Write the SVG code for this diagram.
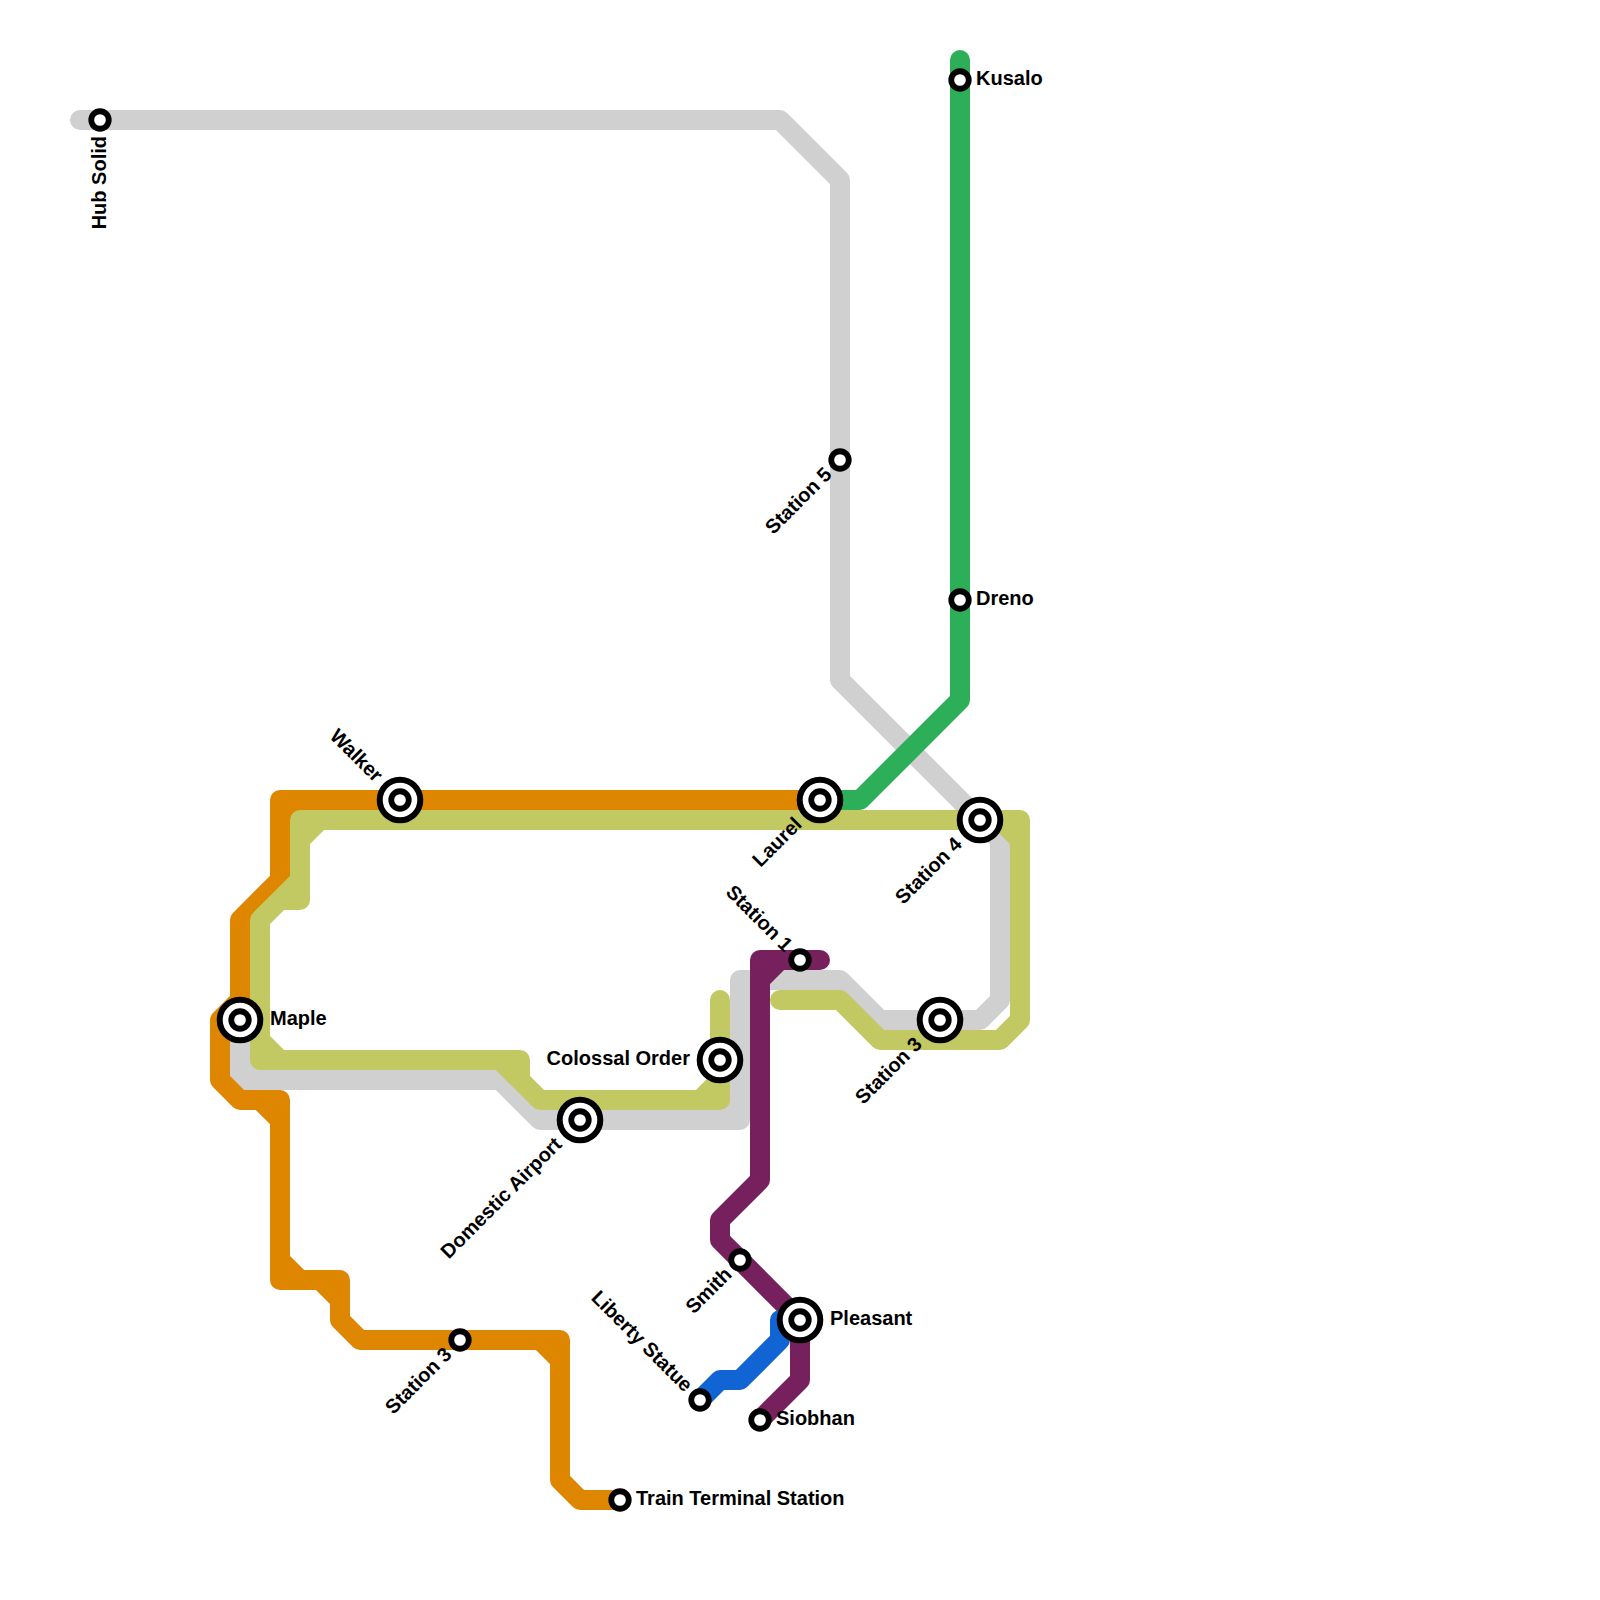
<svg xmlns="http://www.w3.org/2000/svg" width="1600" height="1600" viewBox="0 0 1600 1600">
<style>
.ln{fill:none;stroke-width:20;stroke-linecap:round;stroke-linejoin:round}
.gray{stroke:#d0d0d0}.orange{stroke:#df8600}.lime{stroke:#c3c962}.green{stroke:#2daf5a}.purple{stroke:#76215e}.blue{stroke:#1064d4}
.st{fill:#fff;stroke:#000}
.o{stroke-width:6}
.i{stroke-width:5.8}
text{font-family:"Liberation Sans",Arial,sans-serif;font-weight:bold;font-size:20px;fill:#000}
</style>
<rect width="1600" height="1600" fill="#fff"/>
<g id="connectors">
<path class="ln gray" d="M80,120 L780,120 L840,180 L840,680 L980,820 L1000,840 L1000,1000 L980,1020 L880,1020 L840,980 L740,980 L740,1120 L540,1120 L500,1080 L240,1080 L240,1020 M760,980 L740,1000 M740,1100 L720,1120 M240,1060 L260,1080"/>
<path class="ln orange" d="M820,800 L280,800 L280,880 L240,920 L240,1000 L220,1020 L220,1080 L240,1100 L280,1100 L280,1280 L340,1280 L340,1320 L360,1340 L560,1340 L560,1480 L580,1500 L620,1500 M300,800 L280,820 M260,1100 L280,1120 M280,1260 L300,1280 M320,1280 L340,1300 M540,1340 L560,1360"/>
<path class="ln lime" d="M780,1000 L840,1000 L880,1040 L1000,1040 L1020,1020 L1020,820 L300,820 L300,900 L280,900 L260,920 L260,1060 L520,1060 L520,1080 L540,1100 L720,1100 L720,1000 M1000,820 L1020,840 M320,820 L300,840 M300,880 L280,900 M260,1040 L280,1060 M500,1060 L520,1080 M700,1100 L720,1080"/>
<path class="ln green" d="M960,60 L960,700 L860,800 L820,800"/>
<path class="ln purple" d="M820,960 L760,960 L760,1180 L720,1220 L720,1240 L800,1320 L800,1380 L760,1420 M780,960 L760,980"/>
<path class="ln blue" d="M780,1320 L780,1340 L740,1380 L720,1380 L700,1400"/>
</g>
<g id="station-hub-solid"><circle class="st i" cx="100" cy="120" r="8.75"/><text transform="translate(100,136) rotate(-90)" y="6" text-anchor="end">Hub Solid</text></g>
<g id="station-kusalo"><circle class="st i" cx="960" cy="80" r="8.75"/><text x="976" y="85">Kusalo</text></g>
<g id="station-dreno"><circle class="st i" cx="960" cy="600" r="8.75"/><text x="976" y="605">Dreno</text></g>
<g id="station-station5"><circle class="st i" cx="840" cy="460" r="8.75"/><text transform="translate(828.69,471.31) rotate(-45)" y="6" text-anchor="end">Station 5</text></g>
<g id="station-walker"><circle class="st o" cx="400" cy="800" r="20.3"/><circle class="st i" cx="400" cy="800" r="8.75"/><text transform="translate(378.79,778.79) rotate(45)" y="6" text-anchor="end">Walker</text></g>
<g id="station-laurel"><circle class="st o" cx="820" cy="800" r="20.3"/><circle class="st i" cx="820" cy="800" r="8.75"/><text transform="translate(798.79,821.21) rotate(-45)" y="6" text-anchor="end">Laurel</text></g>
<g id="station-station4"><circle class="st o" cx="980" cy="820" r="20.3"/><circle class="st i" cx="980" cy="820" r="8.75"/><text transform="translate(958.79,841.21) rotate(-45)" y="6" text-anchor="end">Station 4</text></g>
<g id="station-station1"><circle class="st i" cx="800" cy="960" r="8.75"/><text transform="translate(788.69,948.69) rotate(45)" y="6" text-anchor="end">Station 1</text></g>
<g id="station-station3-east"><circle class="st o" cx="940" cy="1020" r="20.3"/><circle class="st i" cx="940" cy="1020" r="8.75"/><text transform="translate(918.79,1041.21) rotate(-45)" y="6" text-anchor="end">Station 3</text></g>
<g id="station-maple"><circle class="st o" cx="240" cy="1020" r="20.3"/><circle class="st i" cx="240" cy="1020" r="8.75"/><text x="270" y="1025">Maple</text></g>
<g id="station-colossal-order"><circle class="st o" cx="720" cy="1060" r="20.3"/><circle class="st i" cx="720" cy="1060" r="8.75"/><text x="690" y="1065" text-anchor="end">Colossal Order</text></g>
<g id="station-domestic-airport"><circle class="st o" cx="580" cy="1120" r="20.3"/><circle class="st i" cx="580" cy="1120" r="8.75"/><text transform="translate(558.79,1141.21) rotate(-45)" y="6" text-anchor="end">Domestic Airport</text></g>
<g id="station-smith"><circle class="st i" cx="740" cy="1260" r="8.75"/><text transform="translate(728.69,1271.31) rotate(-45)" y="6" text-anchor="end">Smith</text></g>
<g id="station-pleasant"><circle class="st o" cx="800" cy="1320" r="20.3"/><circle class="st i" cx="800" cy="1320" r="8.75"/><text x="830" y="1325">Pleasant</text></g>
<g id="station-station3-west"><circle class="st i" cx="460" cy="1340" r="8.75"/><text transform="translate(448.69,1351.31) rotate(-45)" y="6" text-anchor="end">Station 3</text></g>
<g id="station-liberty-statue"><circle class="st i" cx="700" cy="1400" r="8.75"/><text transform="translate(688.69,1388.69) rotate(45)" y="6" text-anchor="end">Liberty Statue</text></g>
<g id="station-siobhan"><circle class="st i" cx="760" cy="1420" r="8.75"/><text x="776" y="1425">Siobhan</text></g>
<g id="station-train-terminal"><circle class="st i" cx="620" cy="1500" r="8.75"/><text x="636" y="1505">Train Terminal Station</text></g>
</svg>
